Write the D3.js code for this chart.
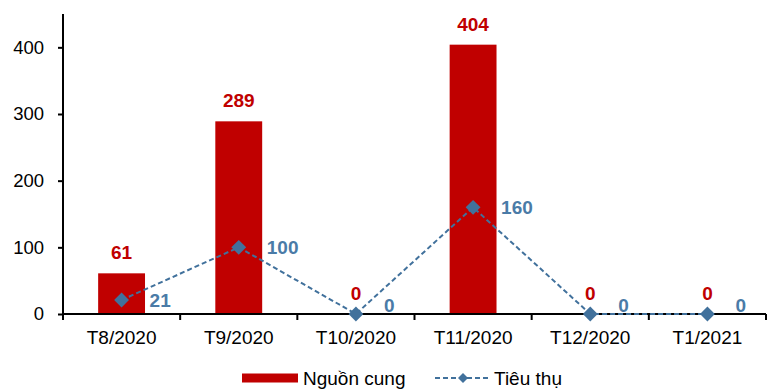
<!DOCTYPE html>
<html>
<head>
<meta charset="utf-8">
<script src="https://cdn.jsdelivr.net/npm/d3@7/dist/d3.min.js"></script>
<style>
  html, body { margin: 0; padding: 0; background: #fff; }
  svg { display: block; font-family: Arial, "Liberation Sans", sans-serif; }
</style>
</head>
<body>
<svg id="chart" width="776" height="390"></svg>
<script>
// Monthly supply (bars) and consumption (line)
const months = ["T8/2020", "T9/2020", "T10/2020", "T11/2020", "T12/2020", "T1/2021"];
const supply = [61, 289, 0, 404, 0, 0];
const consumption = [21, 100, 0, 160, 0, 0];
const yTicks = [0, 100, 200, 300, 400];
const seriesNames = ["Nguồn cung", "Tiêu thụ"];

const red = "#C00000";
const blue = "#41719C";
const blueText = "#4A7BA7";
const fontFamily = "Arial, 'Liberation Sans', sans-serif";

const svg = d3.select("#chart");
const plotLeft = 63, plotRight = 766, plotTop = 14, plotBottom = 314;

const x = d3.scaleBand().domain(months).range([plotLeft, plotRight]).padding(0);
const y = d3.scaleLinear().domain([0, 450]).range([plotBottom, plotTop]);
const barW = x.bandwidth() * 0.4;

// Bars
svg.append("g").selectAll("rect")
  .data(months.map((m, i) => ({ m, v: supply[i] })))
  .join("rect")
  .attr("x", d => x(d.m) + (x.bandwidth() - barW) / 2)
  .attr("y", d => y(d.v))
  .attr("width", barW)
  .attr("height", d => y(0) - y(d.v))
  .attr("fill", red);

// Axes
const yAxis = svg.append("g")
  .attr("transform", `translate(${plotLeft},0)`)
  .call(d3.axisLeft(y).tickValues(yTicks).tickSize(5).tickPadding(14).tickFormat(d3.format("d")));
yAxis.select(".domain").attr("d", `M0,${plotTop}V${plotBottom}`).attr("stroke", "#000").attr("stroke-width", 2);
yAxis.selectAll(".tick line").attr("stroke", "#000").attr("stroke-width", 2);
yAxis.selectAll(".tick text").attr("font-size", 18.5).attr("fill", "#000").attr("font-family", fontFamily);

const xAxis = svg.append("g")
  .attr("transform", `translate(0,${plotBottom})`)
  .call(d3.axisBottom(x).tickSize(0).tickPadding(17));
xAxis.select(".domain").attr("d", `M${plotLeft},0H${plotRight}`).attr("stroke", "#000").attr("stroke-width", 2);
xAxis.selectAll(".tick text").attr("font-size", 19).attr("fill", "#000").attr("font-family", fontFamily);
// Ticks on category boundaries
xAxis.append("g").selectAll("line")
  .data(months.map(m => x(m)).concat([x(months[months.length - 1]) + x.bandwidth()]))
  .join("line")
  .attr("x1", d => d).attr("x2", d => d)
  .attr("y1", 0).attr("y2", 6)
  .attr("stroke", "#000").attr("stroke-width", 2);

// Bar value labels
svg.append("g").selectAll("text")
  .data(months.map((m, i) => ({ m, v: supply[i] })))
  .join("text")
  .attr("x", d => x(d.m) + x.bandwidth() / 2)
  .attr("y", d => y(d.v) - 14)
  .attr("text-anchor", "middle")
  .attr("font-size", 19).attr("font-weight", "bold").attr("fill", red)
  .text(d => d.v);

// Consumption line
const pts = months.map((m, i) => ({ m, v: consumption[i], cx: x(m) + x.bandwidth() / 2, cy: y(consumption[i]) }));
svg.append("path")
  .datum(pts)
  .attr("d", d3.line().x(d => d.cx).y(d => d.cy))
  .attr("fill", "none")
  .attr("stroke", blue)
  .attr("stroke-width", 2)
  .attr("stroke-dasharray", "5,3");

const diamond = d3.symbol().type(d3.symbolSquare).size(110);
svg.append("g").selectAll("path")
  .data(pts)
  .join("path")
  .attr("d", diamond)
  .attr("transform", d => `translate(${d.cx},${d.cy}) rotate(45)`)
  .attr("fill", blue);

// Line value labels, kept inside the plot area
svg.append("g").selectAll("text")
  .data(pts)
  .join("text")
  .attr("x", d => d.cx + 28)
  .attr("y", d => Math.min(d.cy, plotBottom - 9))
  .attr("dy", "0.36em")
  .attr("text-anchor", "start")
  .attr("font-size", 19).attr("font-weight", "bold").attr("fill", blueText)
  .text(d => d.v);

// Legend
const lg = svg.append("g").attr("transform", "translate(0,378)");
lg.append("rect").attr("x", 242).attr("y", -4.5).attr("width", 56).attr("height", 9).attr("fill", red);
lg.append("text").attr("x", 303).attr("y", 0).attr("dy", "0.36em")
  .attr("font-size", 19).attr("fill", "#000").text(seriesNames[0]);
lg.append("line").attr("x1", 435).attr("x2", 490).attr("y1", 0).attr("y2", 0)
  .attr("stroke", blue).attr("stroke-width", 2).attr("stroke-dasharray", "5,3");
lg.append("path").attr("d", d3.symbol().type(d3.symbolSquare).size(50))
  .attr("transform", "translate(463,0) rotate(45)").attr("fill", blue);
lg.append("text").attr("x", 494).attr("y", 0).attr("dy", "0.36em")
  .attr("font-size", 19).attr("fill", "#000").text(seriesNames[1]);
</script>
</body>
</html>
